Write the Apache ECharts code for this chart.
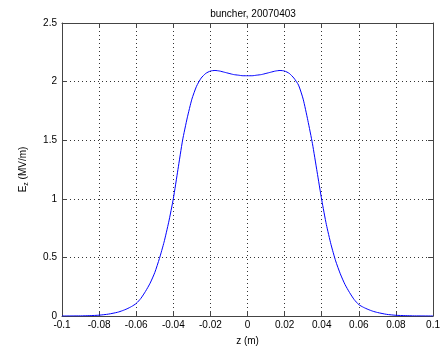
<!DOCTYPE html>
<html><head><meta charset="utf-8">
<script src="https://cdn.jsdelivr.net/npm/echarts@6/dist/echarts.min.js"></script>
<style>html,body{margin:0;padding:0;background:#fff}#c{width:443px;height:352px}</style>
</head><body><div id="c"></div>
<script>
const zValues = [-0.1,-0.09,-0.085,-0.08,-0.075,-0.07,-0.0675,-0.065,-0.0625,-0.06,-0.0575,-0.055,-0.0525,-0.05,-0.0475,-0.045,-0.0425,-0.04,-0.0375,-0.035,-0.0325,-0.03,-0.0275,-0.025,-0.0225,-0.02,-0.0175,-0.015,-0.0125,-0.01,-0.0075,-0.005,-0.0025,0,0.0025,0.005,0.0075,0.01,0.0125,0.015,0.0175,0.02,0.0225,0.025,0.0275,0.03,0.0325,0.035,0.0375,0.04,0.0425,0.045,0.0475,0.05,0.0525,0.055,0.0575,0.06,0.0625,0.065,0.0675,0.07,0.075,0.08,0.085,0.09,0.1];
const ezValues = [0,0.001,0.003,0.007,0.016,0.032,0.045,0.061,0.081,0.107,0.15,0.21,0.28,0.37,0.49,0.63,0.80,1.00,1.25,1.50,1.69,1.85,1.96,2.03,2.07,2.09,2.095,2.09,2.08,2.07,2.06,2.055,2.05,2.05,2.05,2.055,2.06,2.07,2.08,2.09,2.095,2.09,2.07,2.03,1.97,1.85,1.67,1.47,1.23,0.99,0.78,0.61,0.47,0.36,0.27,0.20,0.14,0.097,0.074,0.056,0.041,0.03,0.014,0.006,0.003,0.001,0];
const xTickLabels = ['-0.1','-0.08','-0.06','-0.04','-0.02','0','0.02','0.04','0.06','0.08','0.1'];
const yTickLabels = ['0','0.5','1','1.5','2','2.5'];
const titleText = 'buncher, 20070403';

const font = 'Liberation Sans, Arial, sans-serif';
const data = zValues.map((z,i)=>[z, ezValues[i]]);
const xFmt = v => { const i = Math.round((v+0.1)/0.02); return xTickLabels[i] ?? ''; };
const yFmt = v => { const i = Math.round(v/0.5); return yTickLabels[i] ?? ''; };
const axisLine = {show:true, onZero:false, lineStyle:{color:'#444', width:1}};
const tick = {show:true, inside:true, length:5, lineStyle:{color:'#444'}};
const grid = {show:true, lineStyle:{type:[1,3], color:'#333', width:1}};
const chart = echarts.init(document.getElementById('c'));
chart.setOption({
  animation:false,
  title:{text:titleText, left:248, top:4, textAlign:'center', textStyle:{fontFamily:font, fontSize:10, fontWeight:'normal', color:'#000'}},
  grid:{left:62, right:8, top:23, bottom:36},
  xAxis:[
    {type:'value', min:-0.1, max:0.1, interval:0.02, position:'bottom',
     name:'z (m)', nameLocation:'middle', nameGap:20, nameTextStyle:{fontFamily:font, fontSize:10, color:'#000'},
     axisLine, axisTick:tick, splitLine:grid,
     axisLabel:{formatter:xFmt, fontFamily:font, fontSize:10, color:'#000', margin:4}},
    {type:'value', min:-0.1, max:0.1, interval:0.02, position:'top',
     axisLine, axisTick:tick, splitLine:{show:false}, axisLabel:{show:false}}
  ],
  yAxis:[
    {type:'value', min:0, max:2.5, interval:0.5, position:'left',
     name:'{n|E}{s|z}{n| (MV/m)}', nameLocation:'middle', nameGap:32, nameRotate:90,
     nameTextStyle:{rich:{n:{fontFamily:font, fontSize:10, color:'#000'}, s:{fontFamily:font, fontSize:7, color:'#000', verticalAlign:'bottom', padding:[6,0,0,0]}}},
     axisLine, axisTick:tick, splitLine:grid,
     axisLabel:{formatter:yFmt, fontFamily:font, fontSize:10, color:'#000', margin:5}},
    {type:'value', min:0, max:2.5, interval:0.5, position:'right',
     axisLine, axisTick:tick, splitLine:{show:false}, axisLabel:{show:false}}
  ],
  series:[{type:'line', data, xAxisIndex:0, yAxisIndex:0, smooth:0.2, showSymbol:false,
    lineStyle:{color:'#0000ff', width:1}}]
});
</script></body></html>
